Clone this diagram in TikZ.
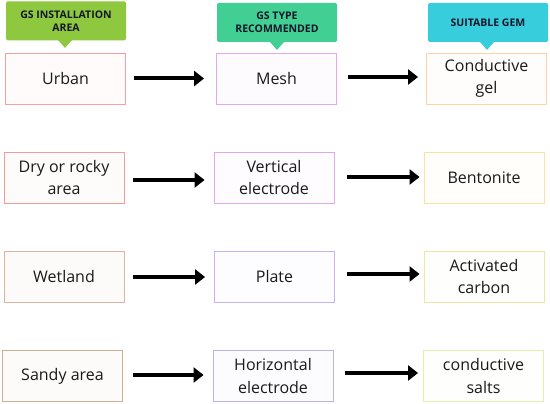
\documentclass[tikz,border=0pt]{standalone}
\usepackage{fontspec}
\setmainfont{Open Sans}
\usetikzlibrary{arrows.meta}
\definecolor{hA}{HTML}{8DC83F}
\definecolor{hB}{HTML}{41CF94}
\definecolor{hC}{HTML}{38CDDC}
\definecolor{htext}{HTML}{16162A}
\definecolor{rA}{HTML}{F4A0A6}
\definecolor{rB}{HTML}{F29C9E}
\definecolor{rC}{HTML}{DDB29F}
\definecolor{rD}{HTML}{CBAE96}
\definecolor{vA}{HTML}{E6A6EC}
\definecolor{vB}{HTML}{E3A8EA}
\definecolor{vC}{HTML}{C7B3F2}
\definecolor{vD}{HTML}{BBB3EC}
\definecolor{yA}{HTML}{FDD4A6}
\definecolor{yB}{HTML}{FAE2A6}
\definecolor{yC}{HTML}{EBE7A8}
\definecolor{yD}{HTML}{E6ECAE}
\definecolor{txt}{HTML}{1A1A1A}
\tikzset{
  x=1pt, y=-1pt,
  box/.style={draw, line width=0.9pt, inner sep=0pt, minimum width=120pt, minimum height=51pt,
    align=center, font=\fontsize{16}{22.5}\selectfont, text=txt},
  hdr/.style={inner sep=0pt, minimum width=120pt, minimum height=39pt, rounded corners=1.5pt,
    align=center, font=\fontsize{10.5}{13.5}\selectfont\bfseries, text=htext},
  arr/.style={line width=4pt, -{Triangle[length=10pt,width=15pt]}},
}
\begin{document}
\begin{tikzpicture}
\useasboundingbox (0,0) rectangle (550,404);
% headers
\node[hdr, fill=hA] (h1) at (66,21) {GS INSTALLATION\\AREA};
\fill[hA] (58,40) -- (72,40) -- (65,48) -- cycle;
\node[hdr, fill=hB] (h2) at (277,22.5) {GS TYPE\\RECOMMENDED};
\fill[hB] (270,42) -- (284,42) -- (277,50) -- cycle;
\node[hdr, fill=hC] (h3) at (488,22.5) {SUITABLE GEM};
\fill[hC] (480,42) -- (494,42) -- (487,50) -- cycle;
% row 1
\node[box, draw=rA, fill=rA!4] (a1) at (65.5,78.5) {Urban};
\node[box, draw=vA, fill=vA!4] (b1) at (276.5,78.5) {Mesh};
\node[box, draw=yA, fill=yA!4] (c1) at (486.5,78.5) {Conductive\\gel};
% row 2
\node[box, draw=rB, fill=rB!4] (a2) at (64,177.5) {Dry or rocky\\area};
\node[box, draw=vB, fill=vB!4] (b2) at (274,177.5) {Vertical\\electrode};
\node[box, draw=yB, fill=yB!4] (c2) at (484,177.5) {Bentonite};
% row 3
\node[box, draw=rC, fill=rC!5] (a3) at (64,276.5) {Wetland};
\node[box, draw=vC, fill=vC!4] (b3) at (274.5,276.5) {Plate};
\node[box, draw=yC, fill=yC!4] (c3) at (484,276.5) {Activated\\carbon};
% row 4
\node[box, draw=rD, fill=rD!5] (a4) at (62.5,376) {Sandy area};
\node[box, draw=vD, fill=vD!4] (b4) at (273,376) {Horizontal\\electrode};
\node[box, draw=yD, fill=yD!4] (c4) at (483.5,376) {conductive\\salts};
% arrows
\draw[arr, shorten <=8pt, shorten >=12pt] ([yshift=0pt]a1.east) -- ([yshift=0pt]b1.west);
\draw[arr, shorten <=11pt, shorten >=8pt] ([yshift=1.5pt]b1.east) -- ([yshift=1.5pt]c1.west);
\draw[arr, shorten <=9pt, shorten >=9pt] ([yshift=-2.5pt]a2.east) -- ([yshift=-2.5pt]b2.west);
\draw[arr, shorten <=13pt, shorten >=4pt] ([yshift=0.5pt]b2.east) -- ([yshift=0.5pt]c2.west);
\draw[arr, shorten <=9pt, shorten >=9pt] ([yshift=-0.5pt]a3.east) -- ([yshift=-0.5pt]b3.west);
\draw[arr, shorten <=12pt, shorten >=4pt] ([yshift=2.5pt]b3.east) -- ([yshift=2.5pt]c3.west);
\draw[arr, shorten <=10pt, shorten >=9pt] ([yshift=1pt]a4.east) -- ([yshift=1pt]b4.west);
\draw[arr, shorten <=12pt, shorten >=5pt] ([yshift=3pt]b4.east) -- ([yshift=3pt]c4.west);
\end{tikzpicture}
\end{document}
